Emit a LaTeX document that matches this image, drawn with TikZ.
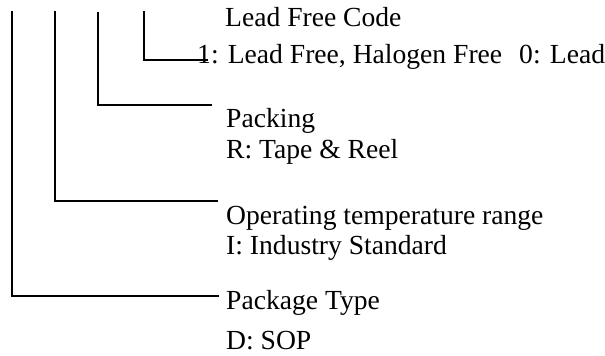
\documentclass[tikz,border=0pt]{standalone}
\usepackage{fontspec}
\setmainfont{Liberation Serif}
\begin{document}
\begin{tikzpicture}[x=1pt,y=-1pt,
  lbl/.style={anchor=base west,inner sep=0pt,font=\fontsize{27.6}{31}\selectfont},
  lead/.style={line width=1.5pt,line cap=rect}]
\useasboundingbox (0,0) rectangle (605,356);
% texts
\node[lbl] (lfc) at (225,27) {Lead Free Code};
\node[lbl] (lfcv) at (197,63) {1: Lead Free, Halogen Free\hspace{17pt}0: Lead};
\node[lbl] (pk) at (226,127) {Packing};
\node[lbl] (pkv) at (226,158) {R: Tape \& Reel};
\node[lbl] (op) at (226,224) {Operating temperature range};
\node[lbl] (opv) at (226,254) {I: Industry Standard};
\node[lbl] (pt) at (226,309) {Package Type};
\node[lbl] (ptv) at (226,349) {D: SOP};
% leader coordinates
\coordinate (t1) at (12,12);
\coordinate (e1) at (218,296);
\coordinate (t2) at (55,12);
\coordinate (e2) at (217,201);
\coordinate (t3) at (98,13);
\coordinate (e3) at (211,105);
\coordinate (t4) at (144,12);
\coordinate (e4) at (207,60);
\draw[lead] (t1) |- (e1);
\draw[lead] (t2) |- (e2);
\draw[lead] (t3) |- (e3);
\draw[lead] (t4) |- (e4);
\end{tikzpicture}
\end{document}
